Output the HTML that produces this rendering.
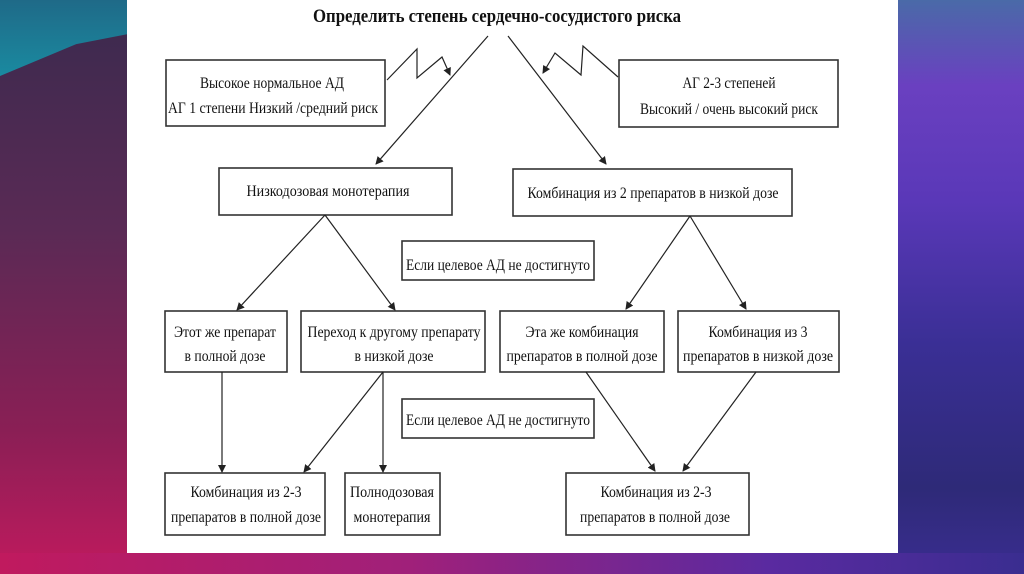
<!DOCTYPE html>
<html><head><meta charset="utf-8"><style>
html,body{margin:0;padding:0;width:1024px;height:574px;overflow:hidden}
body{background:linear-gradient(180deg,#3a2a4e 0%,#5a2a55 40%,#8a1f55 75%,#c01a5e 100%);position:relative}
.right{position:absolute;left:898px;top:0;width:126px;height:574px;background:linear-gradient(180deg,#4a6aa8 0%,#6a40c0 15%,#5a38b8 35%,#3a2f95 60%,#2e2a78 85%,#3a2d90 100%)}
.tl{position:absolute;left:0;top:0;width:127px;height:76px;background:linear-gradient(180deg,#1f6a88,#1a8aa0);clip-path:polygon(0 0,100% 0,100% 45%,60% 58%,0 100%)}
.bottom{position:absolute;left:0;top:553px;width:1024px;height:21px;background:linear-gradient(90deg,#c01a5e 0%,#a0207a 40%,#5a2aa0 75%,#3a2d90 100%)}
svg{position:absolute;left:0;top:0}
text{font-family:"Liberation Serif",serif;font-size:16px;fill:#111}
</style></head><body>
<div class="tl"></div><div class="right"></div><div class="bottom"></div>
<svg width="1024" height="574" viewBox="0 0 1024 574">
<defs><marker id="a" markerWidth="8" markerHeight="8" refX="7" refY="4" orient="auto" markerUnits="userSpaceOnUse"><path d="M0,0 L8,4 L0,8 Z" fill="#222"/></marker></defs>
<rect x="127" y="0" width="771" height="553" fill="#fff"/>
<g fill="none" stroke="#333" stroke-width="1.6">
<rect x="166" y="60" width="219" height="66"/>
<rect x="619" y="60" width="219" height="67"/>
<rect x="219" y="168" width="233" height="47"/>
<rect x="513" y="169" width="279" height="47"/>
<rect x="402" y="241" width="192" height="39"/>
<rect x="165" y="311" width="122" height="61"/>
<rect x="301" y="311" width="184" height="61"/>
<rect x="500" y="311" width="164" height="61"/>
<rect x="678" y="311" width="161" height="61"/>
<rect x="402" y="399" width="192" height="39"/>
<rect x="165" y="473" width="160" height="62"/>
<rect x="345" y="473" width="95" height="62"/>
<rect x="566" y="473" width="183" height="62"/>
</g>
<g fill="none" stroke="#222" stroke-width="1.2" marker-end="url(#a)">
<line x1="488" y1="36" x2="376" y2="164"/>
<line x1="508" y1="36" x2="606" y2="164"/>
<polyline points="387,80 417,49 417,78 442,57 450,75"/>
<polyline points="618,77 583,46 581,75 555,53 543,73"/>
<line x1="325" y1="215" x2="237" y2="310"/>
<line x1="325" y1="215" x2="395" y2="310"/>
<line x1="690" y1="216" x2="626" y2="309"/>
<line x1="690" y1="216" x2="746" y2="309"/>
<line x1="222" y1="372" x2="222" y2="472"/>
<line x1="383" y1="372" x2="304" y2="472"/>
<line x1="383" y1="372" x2="383" y2="472"/>
<line x1="586" y1="372" x2="655" y2="471"/>
<line x1="756" y1="372" x2="683" y2="471"/>
</g>
<text x="497" y="22" text-anchor="middle" textLength="368" lengthAdjust="spacingAndGlyphs" style="font-size:19px;font-weight:bold">Определить степень сердечно-сосудистого риска</text>
<text x="272" y="88" text-anchor="middle" textLength="144" lengthAdjust="spacingAndGlyphs">Высокое нормальное АД</text>
<text x="273" y="113" text-anchor="middle" textLength="210" lengthAdjust="spacingAndGlyphs">АГ 1 степени Низкий /средний риск</text>
<text x="729" y="88" text-anchor="middle" textLength="93" lengthAdjust="spacingAndGlyphs">АГ 2-3 степеней</text>
<text x="729" y="114" text-anchor="middle" textLength="178" lengthAdjust="spacingAndGlyphs">Высокий / очень высокий риск</text>
<text x="328" y="196" text-anchor="middle" textLength="163" lengthAdjust="spacingAndGlyphs">Низкодозовая монотерапия</text>
<text x="653" y="198" text-anchor="middle" textLength="251" lengthAdjust="spacingAndGlyphs">Комбинация из 2 препаратов в низкой дозе</text>
<text x="498" y="270" text-anchor="middle" textLength="184" lengthAdjust="spacingAndGlyphs">Если целевое АД не достигнуто</text>
<text x="225" y="337" text-anchor="middle" textLength="102" lengthAdjust="spacingAndGlyphs">Этот же препарат</text>
<text x="225" y="361" text-anchor="middle" textLength="81" lengthAdjust="spacingAndGlyphs">в полной дозе</text>
<text x="394" y="337" text-anchor="middle" textLength="173" lengthAdjust="spacingAndGlyphs">Переход к другому препарату</text>
<text x="394" y="361" text-anchor="middle" textLength="79" lengthAdjust="spacingAndGlyphs">в низкой дозе</text>
<text x="582" y="337" text-anchor="middle" textLength="113" lengthAdjust="spacingAndGlyphs">Эта же комбинация</text>
<text x="582" y="361" text-anchor="middle" textLength="151" lengthAdjust="spacingAndGlyphs">препаратов в полной дозе</text>
<text x="758" y="337" text-anchor="middle" textLength="99" lengthAdjust="spacingAndGlyphs">Комбинация из 3</text>
<text x="758" y="361" text-anchor="middle" textLength="150" lengthAdjust="spacingAndGlyphs">препаратов в низкой дозе</text>
<text x="498" y="425" text-anchor="middle" textLength="184" lengthAdjust="spacingAndGlyphs">Если целевое АД не достигнуто</text>
<text x="246" y="497" text-anchor="middle" textLength="111" lengthAdjust="spacingAndGlyphs">Комбинация из 2-3</text>
<text x="246" y="522" text-anchor="middle" textLength="150" lengthAdjust="spacingAndGlyphs">препаратов в полной дозе</text>
<text x="392" y="497" text-anchor="middle" textLength="84" lengthAdjust="spacingAndGlyphs">Полнодозовая</text>
<text x="392" y="522" text-anchor="middle" textLength="77" lengthAdjust="spacingAndGlyphs">монотерапия</text>
<text x="656" y="497" text-anchor="middle" textLength="111" lengthAdjust="spacingAndGlyphs">Комбинация из 2-3</text>
<text x="655" y="522" text-anchor="middle" textLength="150" lengthAdjust="spacingAndGlyphs">препаратов в полной дозе</text>
</svg>
</body></html>
